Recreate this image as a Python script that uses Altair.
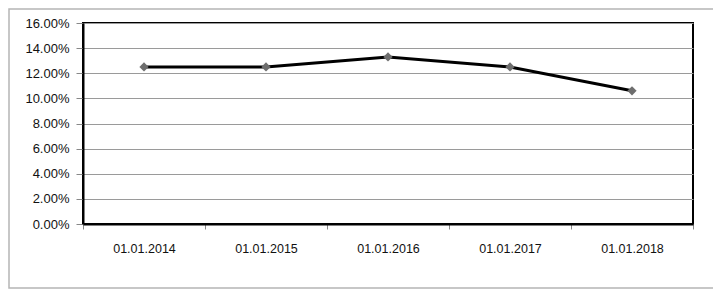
import altair as alt
import pandas as pd

dates = ["01.01.2014", "01.01.2015", "01.01.2016", "01.01.2017", "01.01.2018"]
values = [0.125, 0.125, 0.133, 0.125, 0.106]

df = pd.DataFrame({"date": dates, "value": values})
frame_df = pd.DataFrame({"a": [0]})

FONT = "Liberation Sans"

x = alt.X("date:N", sort=dates, title=None,
          scale=alt.Scale(paddingInner=0, paddingOuter=0),
          axis=alt.Axis(labelAngle=0, labelFont=FONT, labelFontSize=12.5, labelColor="#111",
                        tickBand="extent", tickColor="#888", tickSize=5,
                        domainColor="#000", domainWidth=2, labelPadding=13, grid=False))
y = alt.Y("value:Q", title=None,
          scale=alt.Scale(domain=[0, 0.16]),
          axis=alt.Axis(format=".2%", values=[i * 0.02 for i in range(9)],
                        labelFont=FONT, labelFontSize=13, labelColor="#111",
                        tickColor="#888", tickSize=7, labelPadding=7,
                        domainColor="#000", domainWidth=2,
                        grid=True, gridColor="#9a9a9a", gridWidth=1))

line = alt.Chart(df).mark_line(color="#000", strokeWidth=3).encode(x=x, y=y)
pts = alt.Chart(df).mark_point(shape="diamond", filled=True, color="#6e6e6e",
                               size=85, opacity=1).encode(x=x, y=y)

frame = alt.Chart(frame_df).mark_rect(fill="transparent", stroke="#b5b5b5",
                                      strokeWidth=1.5).encode(
    x=alt.value(-74), x2=alt.value(631), y=alt.value(-14), y2=alt.value(265))

chart = alt.layer(frame, line, pts).properties(
    width=610, height=201,
    autosize=alt.AutoSizeParams(type="none"),
    padding={"left": 75, "top": 15, "right": 20, "bottom": 71},
    background="white",
).configure_view(stroke="#000", strokeWidth=2)

chart.save("out.html", embed_options={"renderer": "svg", "actions": False})
